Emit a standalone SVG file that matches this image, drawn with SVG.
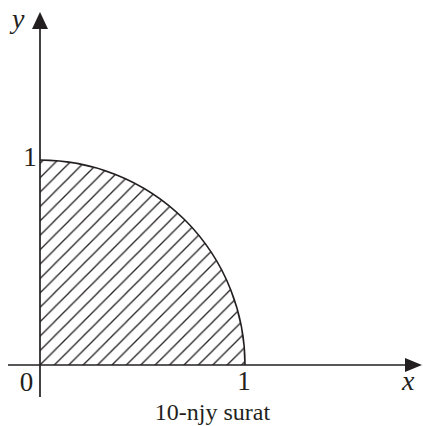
<svg xmlns="http://www.w3.org/2000/svg" width="423" height="426" viewBox="0 0 423 426">
<style>
.ax{stroke:#231f20;stroke-width:1.7;fill:none}
.arc{stroke:#231f20;stroke-width:1.6;fill:none}
.hatch{stroke:#231f20;stroke-width:1.3;fill:none}
.head{fill:#231f20}
text{font-family:"Liberation Serif","Times New Roman",serif;fill:#231f20}
.it{font-style:italic}
</style>
<defs>
<pattern id="h" patternUnits="userSpaceOnUse" x="40" y="365" width="14.4" height="14.4">
<path class="hatch" d="M0 14.4L14.4 0M-3.6 3.6L3.6 -3.6M10.8 18L18 10.8"/>
</pattern>
</defs>
<g id="region">
<path d="M40 365 L40 160 A205 205 0 0 1 245 365 Z" fill="url(#h)"/>
<path class="arc" d="M40 160 A205 205 0 0 1 245 365"/>
</g>
<g id="axes">
<line class="ax" x1="8" y1="365" x2="408" y2="365"/>
<polygon class="head" points="422,365 405,358 405,372"/>
<line class="ax" x1="40" y1="397" x2="40" y2="27"/>
<polygon class="head" points="40,12 32,29 48,29"/>
</g>
<g id="labels">
<text class="it" x="12" y="28" font-size="28">y</text>
<text class="it" x="402" y="390" font-size="28">x</text>
<text x="30" y="166" font-size="27" text-anchor="middle">1</text>
<text x="26.5" y="391" font-size="27" text-anchor="middle">0</text>
<text x="244" y="390" font-size="27" text-anchor="middle">1</text>
<text x="212.5" y="420" font-size="24" text-anchor="middle">10-njy surat</text>
</g>
</svg>
